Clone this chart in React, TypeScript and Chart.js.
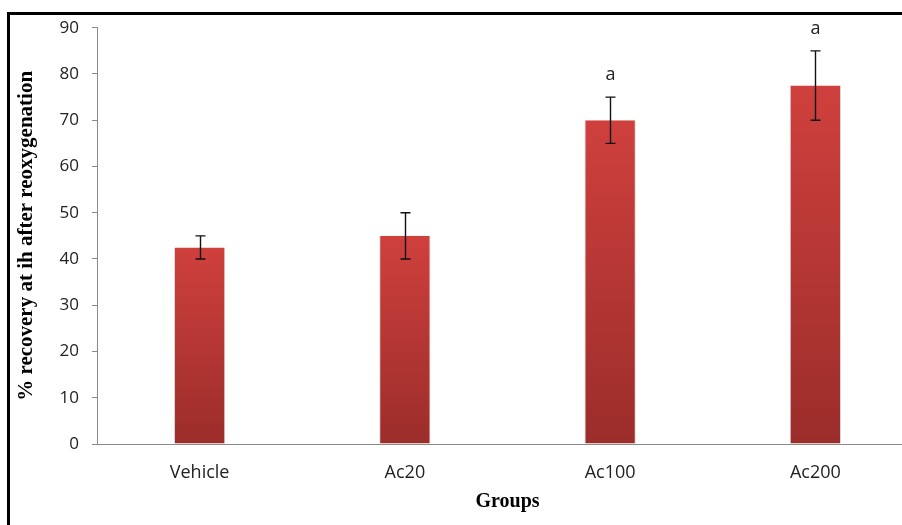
import React, { useEffect, useRef } from "react";
import { Chart, registerables } from "chart.js";

Chart.register(...registerables);

const categories = ["Vehicle", "Ac20", "Ac100", "Ac200"];
const meanValues = [42.5, 45, 70, 77.5];
const errLow = [40, 40, 65, 70];
const errHigh = [45, 50, 75, 85];
const sigLabels = ["", "", "a", "a"];
const yTitle = "% recovery at ih after reoxygenation";
const xTitle = "Groups";

const errorBarPlugin = {
  id: "errorBars",
  afterDatasetsDraw(chart: any) {
    const ctx = chart.ctx;
    const meta = chart.getDatasetMeta(0);
    const y = chart.scales.y;
    ctx.save();
    meta.data.forEach((bar: any, i: number) => {
      const x = Math.round(bar.x) + 0.5;
      const yHi = y.getPixelForValue(errHigh[i]);
      const yLo = y.getPixelForValue(errLow[i]);
      ctx.strokeStyle = "#111";
      ctx.lineWidth = 1.4;
      ctx.beginPath();
      ctx.moveTo(x, yHi);
      ctx.lineTo(x, yLo);
      ctx.moveTo(x - 5, yHi);
      ctx.lineTo(x + 5, yHi);
      ctx.moveTo(x - 5, yLo);
      ctx.lineTo(x + 5, yLo);
      ctx.stroke();
      if (sigLabels[i]) {
        ctx.fillStyle = "#222";
        ctx.font = "18px 'Open Sans'";
        ctx.textAlign = "center";
        ctx.textBaseline = "alphabetic";
        ctx.fillText(sigLabels[i], x, yHi - 17);
      }
    });
    ctx.restore();
  },
};

export default function App() {
  const ref = useRef<HTMLCanvasElement | null>(null);
  useEffect(() => {
    document.body.style.overflow = "hidden";
    const canvas = ref.current!;
    const chart = new Chart(canvas, {
      type: "bar",
      data: {
        labels: categories,
        datasets: [
          {
            data: meanValues,
            backgroundColor: (c: any) => {
              const ch = c.chart;
              const area = ch.chartArea;
              if (!area || c.dataIndex === undefined) return "#b93634";
              const ys = ch.scales.y;
              const top = ys.getPixelForValue(meanValues[c.dataIndex]);
              const base = ys.getPixelForValue(0);
              const g = ch.ctx.createLinearGradient(0, top, 0, base);
              g.addColorStop(0, "#cf403d");
              g.addColorStop(1, "#9b2d2a");
              return g;
            },
            borderColor: "rgba(150,150,150,0.35)",
            borderWidth: { left: 1, right: 1, top: 0, bottom: 0 },
            categoryPercentage: 1,
            barPercentage: 0.25,
          },
        ],
      },
      options: {
        animation: false,
        responsive: false,
        maintainAspectRatio: false,
        devicePixelRatio: 1,
        layout: { padding: { left: 0, right: 12, top: 27.7, bottom: 0 } },
        plugins: { legend: { display: false }, tooltip: { enabled: false } },
        scales: {
          x: {
            afterFit: (s: any) => {
              s.height = 81;
            },
            grid: { display: false, drawTicks: false },
            border: { display: true, color: "#8a8a8a", width: 1 },
            ticks: {
              color: "#222",
              font: { family: "'Open Sans'", size: 18 },
              padding: 18,
            },
            title: {
              display: true,
              text: xTitle,
              color: "#000",
              font: { family: "'Liberation Serif'", size: 20, weight: "bold" },
              padding: { top: 0, bottom: 11 },
            },
          },
          y: {
            min: 0,
            max: 90,
            afterFit: (s: any) => {
              s.width = 97;
            },
            grid: {
              drawOnChartArea: false,
              drawTicks: true,
              tickLength: 5,
              color: "#8a8a8a",
            },
            border: { display: true, color: "#8a8a8a", width: 1 },
            ticks: {
              stepSize: 10,
              color: "#222",
              font: { family: "'Open Sans'", size: 17 },
              padding: 13,
            },
            title: {
              display: true,
              text: yTitle,
              color: "#000",
              font: { family: "'Liberation Serif'", size: 21, weight: "bold" },
              padding: { top: 14, bottom: 0 },
            },
          },
        },
      },
      plugins: [errorBarPlugin],
    } as any);
    return () => chart.destroy();
  }, []);

  return (
    <div
      style={{
        position: "fixed",
        left: 0,
        top: 0,
        width: 902,
        height: 525,
        overflow: "hidden",
        background: "#fff",
      }}
    >
      <div
        style={{
          position: "absolute",
          left: 7,
          top: 12,
          width: 1000,
          height: 1000,
          border: "3px solid #000",
        }}
      />
      <canvas
        ref={ref}
        width={930}
        height={525}
        style={{ position: "absolute", left: 0, top: 0, width: 930, height: 525 }}
      />
    </div>
  );
}
